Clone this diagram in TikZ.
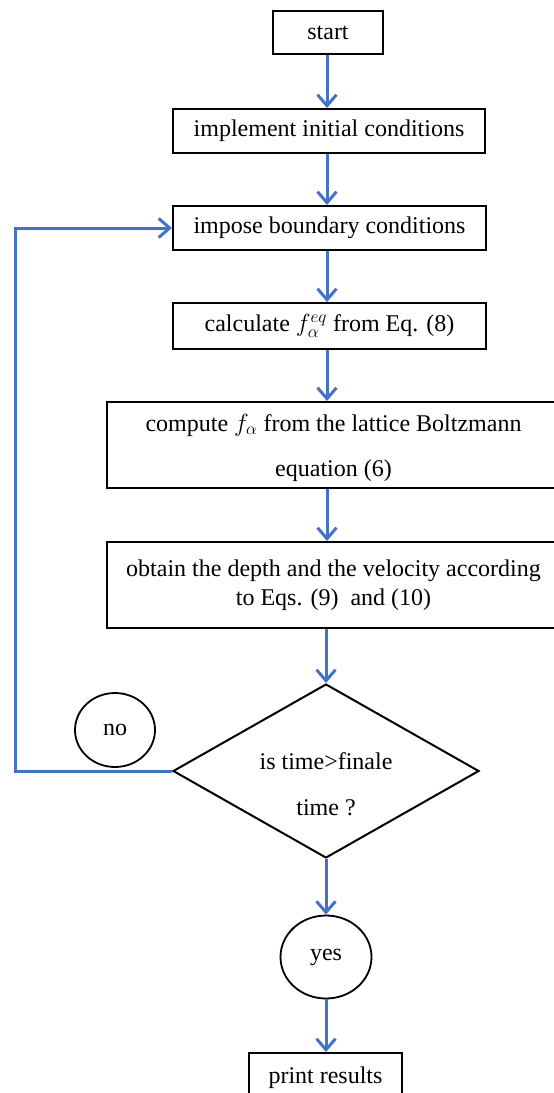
\documentclass[tikz,border=0pt]{standalone}
\usepackage{fontspec}
\setmainfont{Liberation Serif}
\usetikzlibrary{arrows.meta,shapes.geometric}
\definecolor{flowblue}{RGB}{68,114,196}
\begin{document}
\begin{tikzpicture}[x=1pt,y=-1pt,
  font=\fontsize{24}{29}\selectfont,
  box/.style={draw=black, line width=2pt, inner sep=0pt, align=center},
  loopnode/.style={draw=black, line width=1.8pt, ellipse, inner sep=0pt},
  flow/.style={draw=flowblue, line width=3pt, -{Straight Barb[length=11pt,width=19pt]}}]
\useasboundingbox (0,0) rectangle (554,1093);
\coordinate (col) at (327,0);

\node[box, minimum width=110pt, minimum height=43pt] (start) at (328,32.5) {start};
\node[box, minimum width=312pt, minimum height=44pt] (init) at (329,131) {implement initial conditions};
\node[box, minimum width=313pt, minimum height=44pt] (bc) at (329.5,228) {impose boundary conditions};
\node[box, minimum width=313pt, minimum height=46pt] (eq) at (329.5,326) {calculate $f_\alpha^{eq}$ from Eq. (8)};
\node[box, minimum width=453pt, minimum height=86pt, font=\fontsize{24}{45}\selectfont, text depth=0pt] (lbe) at (333.5,445)
  {compute $f_\alpha$ from the lattice Boltzmann\\equation (6)};
\node[box, minimum width=453pt, minimum height=86pt, font=\fontsize{24}{29}\selectfont] (obt) at (333.5,585)
  {obtain the depth and the velocity according\\to Eqs. (9)~ and (10)};
\node[diamond, draw=black, line width=2pt, inner sep=0pt, minimum width=306pt, minimum height=174pt] (dia) at (326,771) {};
\node[align=center, font=\fontsize{24}{46}\selectfont] (dtext) at (326,784) {is time>finale\\time ?};
\node[loopnode, minimum width=80pt, minimum height=74pt] (no) at (115,730) {no};
\node[loopnode, minimum width=91pt, minimum height=83pt] (yes) at (326,957) {yes};
\node[box, minimum width=153pt, minimum height=50pt] (print) at (325.5,1078) {print results};
\coordinate (loopc) at (15,771);

\draw[flow] (start.south -| col) -- (init.north -| col);
\draw[flow] (init.south -| col) -- (bc.north -| col);
\draw[flow] (bc.south -| col) -- (eq.north -| col);
\draw[flow] (eq.south -| col) -- (lbe.north -| col);
\draw[flow] (lbe.south -| col) -- (obt.north -| col);
\draw[flow] (obt.south -| dia.north) -- (dia.north);
\draw[flow] (dia.south) -- (yes.north);
\draw[flow] (yes.south) -- (print.north -| yes.south);
\draw[flow] (dia.west) -- (loopc) |- (bc.west);
\end{tikzpicture}
\end{document}
